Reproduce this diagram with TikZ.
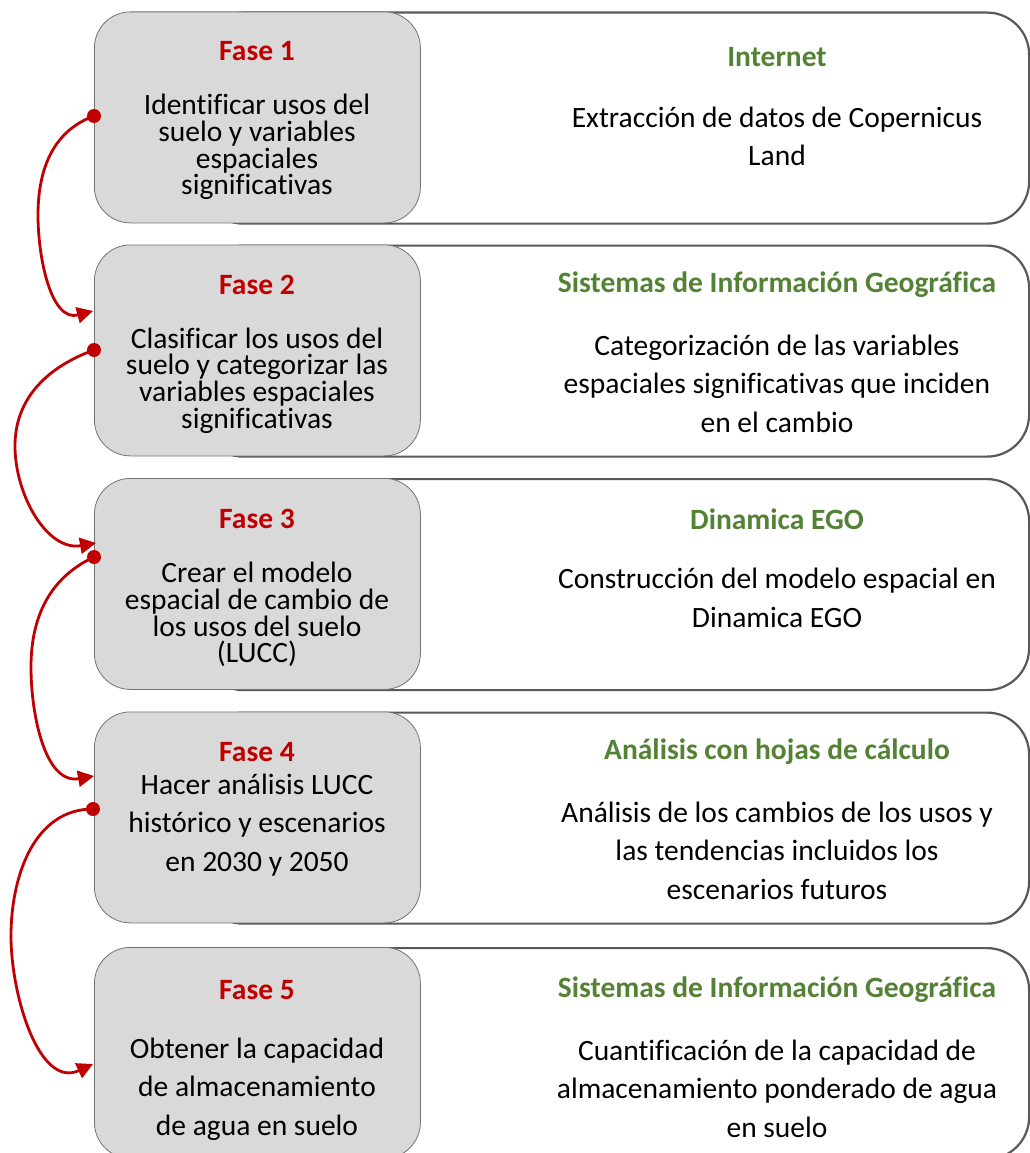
\documentclass[tikz,border=0pt]{standalone}
\usepackage{fontspec}
\setmainfont{Carlito}[Ligatures=NoCommon]
\usetikzlibrary{arrows.meta}

\definecolor{rojo}{RGB}{192,0,0}
\definecolor{verde}{RGB}{84,130,53}
\definecolor{gris}{RGB}{217,217,217}
\definecolor{borde}{RGB}{89,89,89}

\begin{document}
\begin{tikzpicture}[x=1pt, y=-1pt]
	\tikzstyle{marco} = [draw=borde, line width=2.2pt, fill=white, rounded corners=42pt, minimum width=828pt, minimum height=211pt, anchor=north west, inner sep=0pt]
	\tikzstyle{fase} = [draw=black!55, line width=0.8pt, fill=gris, rounded corners=36pt, minimum width=326pt, minimum height=211pt, anchor=north west, inner sep=0pt]
	\tikzstyle{titulo} = [font=\fontsize{29.5}{34}\selectfont\bfseries, text=rojo]
	\tikzstyle{herramienta} = [font=\fontsize{29.5}{34}\selectfont\bfseries, text=verde]
	\tikzstyle{apretado} = [align=center, font=\fontsize{29.5}{26.6}\selectfont]
	\tikzstyle{texto} = [align=center, font=\fontsize{29.5}{38.5}\selectfont]
	\tikzstyle{flecha} = [draw=rojo, line width=2.8pt, -{Triangle[length=16pt, width=16pt]}]
	\useasboundingbox (0,0) rectangle (1029,1153);
	% marcos de la derecha
	\node[marco] (M1) at (200, 11.5) {};
	\node[marco] (M2) at (200, 244.5) {};
	\node[marco] (M3) at (200, 478) {};
	\node[marco] (M4) at (200, 711.5) {};
	\node[marco] (M5) at (200, 947) {};
	% fases
	\node[fase] (F1) at (94, 11.5) {};
	\node[fase] (F2) at (94, 244.5) {};
	\node[fase] (F3) at (94, 478) {};
	\node[fase] (F4) at (94, 711.5) {};
	\node[fase] (F5) at (94, 947) {};
	\node[titulo] (T1) at (257, 51) {Fase 1};
	\node[titulo] (T2) at (257, 285) {Fase 2};
	\node[titulo] (T3) at (257, 519) {Fase 3};
	\node[titulo] (T4) at (257, 752) {Fase 4};
	\node[titulo] (T5) at (257, 990) {Fase 5};
	\node[apretado] (D1) at (257, 147) {Identificar usos del\\suelo y variables\\espaciales\\significativas};
	\node[apretado] (D2) at (257, 380.5) {Clasificar los usos del\\suelo y categorizar las\\variables espaciales\\significativas};
	\node[apretado] (D3) at (257, 614.5) {Crear el modelo\\espacial de cambio de\\los usos del suelo\\(LUCC)};
	\node[texto] (D4) at (257, 825) {Hacer análisis LUCC\\histórico y escenarios\\en 2030 y 2050};
	\node[texto] (D5) at (257, 1089) {Obtener la capacidad\\de almacenamiento\\de agua en suelo};
	% herramientas
	\node[herramienta] (H1) at (777, 57) {Internet};
	\node[herramienta] (H2) at (777, 285) {Sistemas de Información Geográfica};
	\node[herramienta] (H3) at (777, 519) {Dinamica EGO};
	\node[herramienta] (H4) at (777, 752) {Análisis con hojas de cálculo};
	\node[herramienta] (H5) at (777, 990) {Sistemas de Información Geográfica};
	\node[texto] (E1) at (777, 136.5) {Extracción de datos de Copernicus\\Land};
	\node[texto] (E2) at (777, 383.5) {Categorización de las variables\\espaciales significativas que inciden\\en el cambio};
	\node[texto] (E3) at (777, 598) {Construcción del modelo espacial en\\Dinamica EGO};
	\node[texto] (E4) at (777, 850.5) {Análisis de los cambios de los usos y\\las tendencias incluidos los\\escenarios futuros};
	\node[texto] (E5) at (777, 1088.5) {Cuantificación de la capacidad de\\almacenamiento ponderado de agua\\en suelo};
	% flechas
	\coordinate (S1) at (94, 116);
	\coordinate (S2) at (94, 350);
	\coordinate (S3) at (94, 557);
	\coordinate (S4) at (93, 809);
	\coordinate (A2) at (93, 311);
	\coordinate (A3) at (96, 543);
	\coordinate (A4) at (94, 776);
	\coordinate (A5) at (93, 1064);
	\draw[flecha] (S1) to[out=200, in=90] (38, 215) to[out=270, in=195] (A2);
	\draw[flecha] (S2) to[out=200, in=90] (15, 446) to[out=270, in=190] (A3);
	\draw[flecha] (S3) to[out=205, in=90] (31, 667) to[out=270, in=190] (A4);
	\draw[flecha] (S4) to[out=180, in=90] (11, 936) to[out=270, in=205] (A5);
	\fill[rojo] (S1) circle (7);
	\fill[rojo] (S2) circle (7);
	\fill[rojo] (S3) circle (7);
	\fill[rojo] (S4) circle (7);
\end{tikzpicture}
\end{document}
